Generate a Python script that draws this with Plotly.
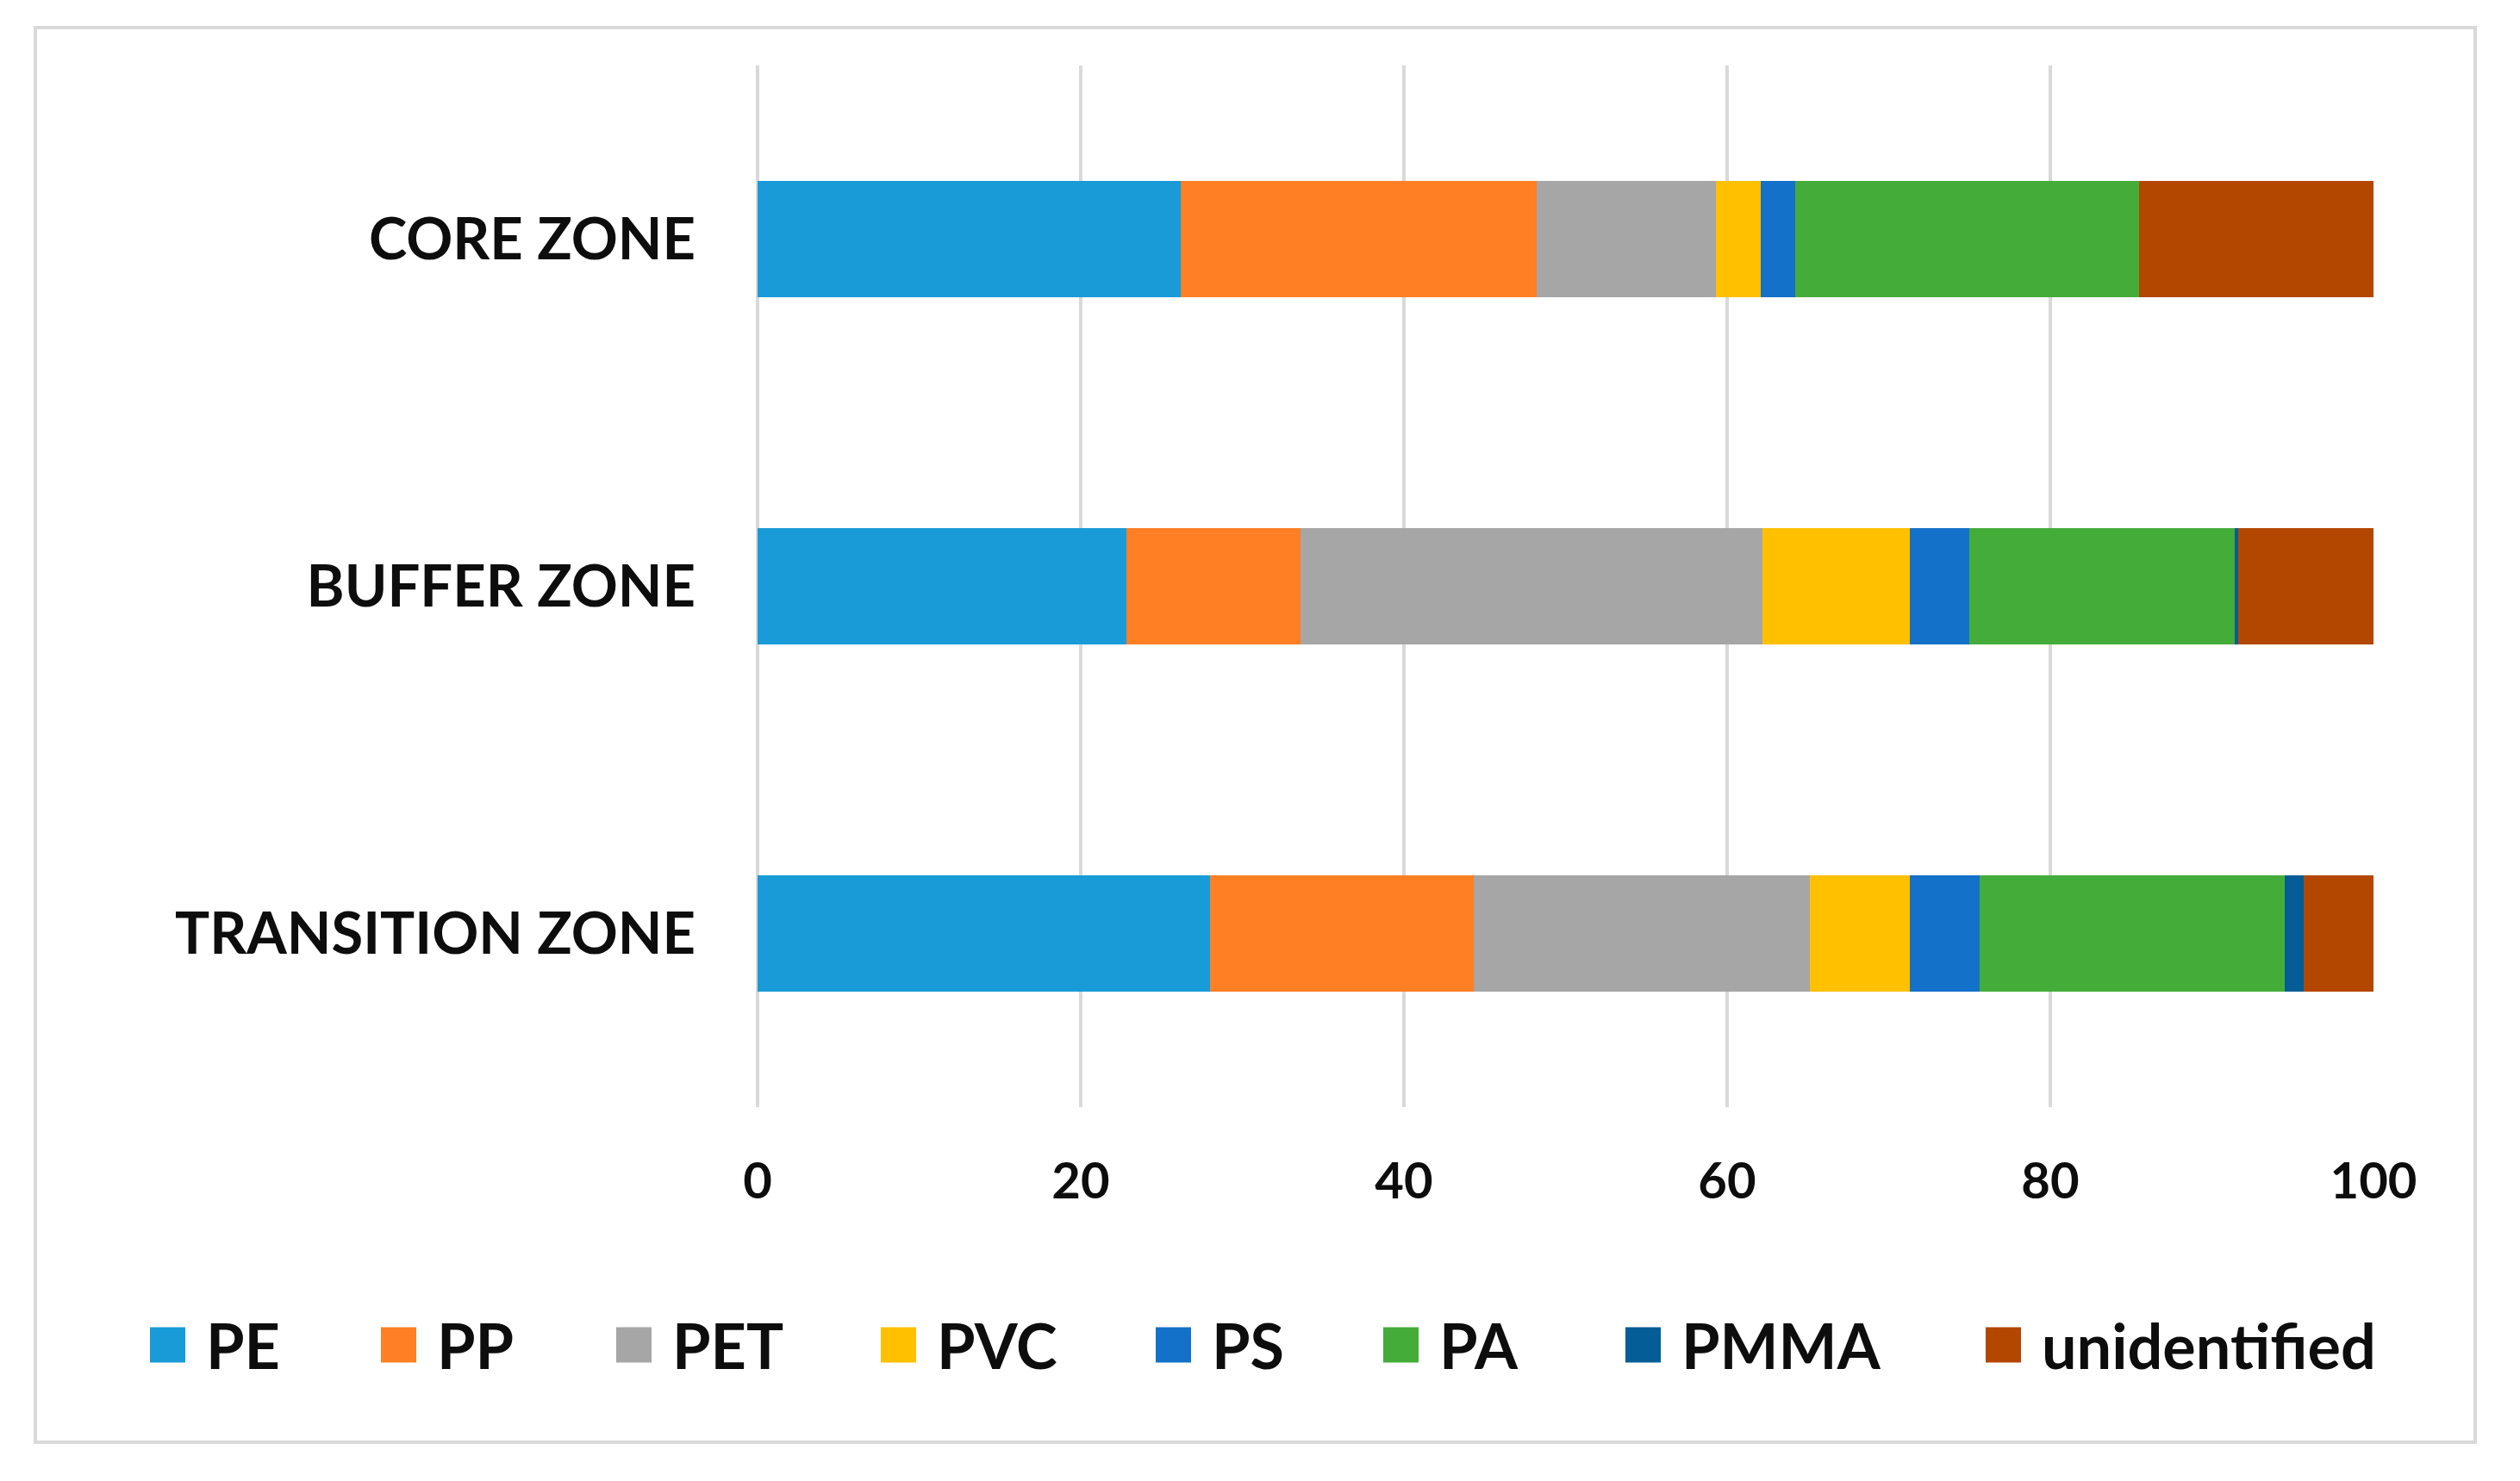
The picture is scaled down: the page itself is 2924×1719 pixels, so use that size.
import plotly.graph_objects as go

zones = ["CORE ZONE", "BUFFER ZONE", "TRANSITION ZONE"]
polymers = ["PE", "PP", "PET", "PVC", "PS", "PA", "PMMA", "unidentified"]
colors = ["#189BD7", "#FE7F24", "#A6A6A6", "#FFC000", "#1471C9", "#44AD3A", "#045D96", "#B44700"]

pe = [26.2, 22.8, 28.0]
pp = [22.0, 10.8, 16.3]
pet = [11.1, 28.6, 20.8]
pvc = [2.8, 9.1, 6.2]
ps = [2.1, 3.7, 4.3]
pa = [21.3, 16.4, 18.9]
pmma = [0.0, 0.2, 1.2]
unidentified = [14.5, 8.5, 4.3]
series = [pe, pp, pet, pvc, ps, pa, pmma, unidentified]

x_ticks = [0, 20, 40, 60, 80, 100]

W, H = 2924, 1719
L, R, T, B = 871, 178, 68, 442
PW, PH = W - L - R, H - T - B

def px_x(p):
    return (p - L) / PW

def px_y(p):
    return (T + PH - p) / PH

FONT = "Lato"
fig = go.Figure()
for name, vals, col in zip(polymers, series, colors):
    fig.add_trace(go.Bar(y=zones, x=vals, name=name, orientation="h",
                         marker=dict(color=col, line=dict(width=0)), showlegend=False))

fig.update_layout(
    width=W, height=H, barmode="stack", bargap=0.667,
    margin=dict(l=L, r=R, t=T, b=B, pad=0),
    paper_bgcolor="white", plot_bgcolor="white",
    font=dict(family=FONT, color="#0d0d0d"),
    xaxis=dict(range=[0, 100], tickvals=x_ticks, showgrid=True, gridcolor="#D9D9D9",
               gridwidth=3.5, zeroline=True, zerolinecolor="#D9D9D9", zerolinewidth=3.5,
               showline=False, ticks="", ticklabelstandoff=47,
               tickfont=dict(size=58, family=FONT, weight="bold", color="#0d0d0d")),
    yaxis=dict(autorange="reversed", showgrid=False, showline=False, ticks="",
               ticklabelstandoff=71,
               tickfont=dict(size=67, family=FONT, weight="bold", color="#0d0d0d")),
)

# frame around the chart
fig.add_shape(type="rect", xref="paper", yref="paper",
              x0=px_x(33), x1=px_x(2864), y0=px_y(1666), y1=px_y(24),
              line=dict(color="#D9D9D9", width=4), fillcolor="rgba(0,0,0,0)", layer="below")

# legend
sq_x = [166, 434, 707, 1014, 1333, 1597, 1878, 2296]
sq = 41
leg_y = 1553
for name, col, x in zip(polymers, colors, sq_x):
    fig.add_shape(type="rect", xref="paper", yref="paper",
                  x0=px_x(x), x1=px_x(x + sq), y0=px_y(leg_y + sq / 2), y1=px_y(leg_y - sq / 2),
                  line=dict(width=0), fillcolor=col)
    fig.add_annotation(xref="paper", yref="paper", x=px_x(x + sq + 22), y=px_y(leg_y),
                       xanchor="left", yanchor="middle", text=name, showarrow=False,
                       font=dict(size=72, family=FONT, weight="bold", color="#0d0d0d"))

fig.write_html("out.html")
